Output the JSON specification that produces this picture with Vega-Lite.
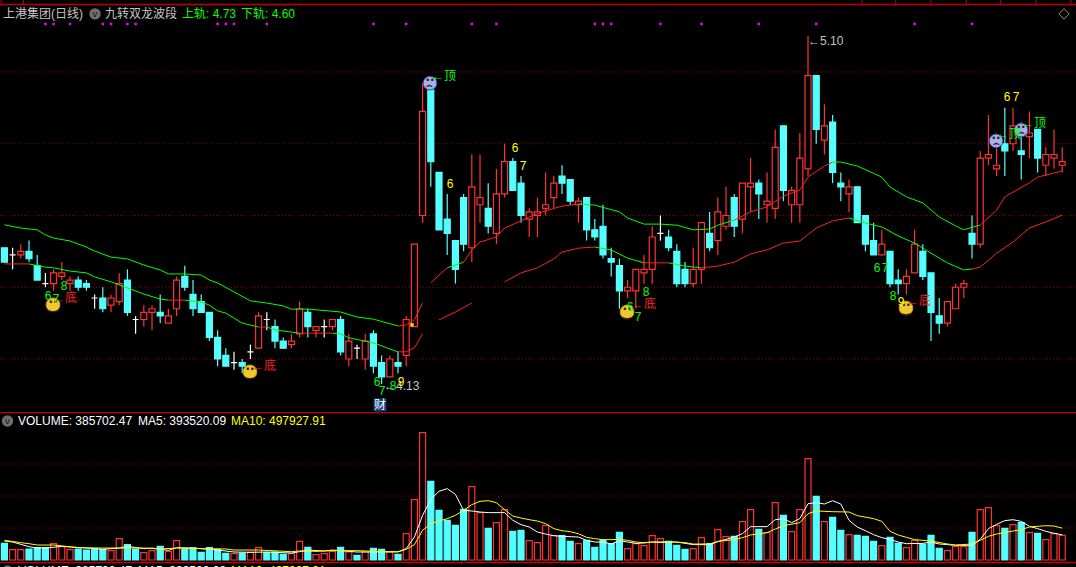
{
"$schema":"https://vega.github.io/schema/vega-lite/v6.json",
"background":"#000000","padding":0,"spacing":0,
"config":{"view":{"stroke":null},"concat":{"spacing":0}},
"datasets":{
"candles":[
{"k":0,"o":4.51,"c":4.47,"h":4.51,"l":4.47,"v":260000,"d":"down","vd":"down"},
{"k":1,"o":4.49,"c":4.49,"h":4.51,"l":4.45,"v":161000,"d":"flat","vd":"up"},
{"k":2,"o":4.49,"c":4.50,"h":4.52,"l":4.48,"v":161000,"d":"up","vd":"up"},
{"k":3,"o":4.50,"c":4.48,"h":4.53,"l":4.47,"v":172000,"d":"down","vd":"down"},
{"k":4,"o":4.46,"c":4.42,"h":4.49,"l":4.42,"v":193000,"d":"down","vd":"down"},
{"k":5,"o":4.41,"c":4.41,"h":4.44,"l":4.40,"v":193000,"d":"flat","vd":"down"},
{"k":6,"o":4.41,"c":4.44,"h":4.45,"l":4.39,"v":255000,"d":"up","vd":"up"},
{"k":7,"o":4.43,"c":4.44,"h":4.47,"l":4.42,"v":208000,"d":"up","vd":"up"},
{"k":8,"o":4.41,"c":4.42,"h":4.43,"l":4.39,"v":161000,"d":"up","vd":"up"},
{"k":9,"o":4.42,"c":4.40,"h":4.43,"l":4.39,"v":172000,"d":"down","vd":"down"},
{"k":10,"o":4.41,"c":4.40,"h":4.42,"l":4.39,"v":156000,"d":"down","vd":"down"},
{"k":11,"o":4.37,"c":4.37,"h":4.38,"l":4.34,"v":177000,"d":"flat","vd":"down"},
{"k":12,"o":4.37,"c":4.34,"h":4.40,"l":4.33,"v":167000,"d":"down","vd":"down"},
{"k":13,"o":4.35,"c":4.37,"h":4.38,"l":4.33,"v":146000,"d":"up","vd":"up"},
{"k":14,"o":4.36,"c":4.41,"h":4.44,"l":4.35,"v":333000,"d":"up","vd":"up"},
{"k":15,"o":4.42,"c":4.33,"h":4.45,"l":4.32,"v":240000,"d":"down","vd":"down"},
{"k":16,"o":4.31,"c":4.31,"h":4.32,"l":4.27,"v":167000,"d":"flat","vd":"down"},
{"k":17,"o":4.31,"c":4.33,"h":4.35,"l":4.29,"v":115000,"d":"up","vd":"up"},
{"k":18,"o":4.33,"c":4.34,"h":4.35,"l":4.28,"v":146000,"d":"up","vd":"up"},
{"k":19,"o":4.33,"c":4.32,"h":4.38,"l":4.30,"v":214000,"d":"down","vd":"down"},
{"k":20,"o":4.30,"c":4.32,"h":4.34,"l":4.30,"v":135000,"d":"up","vd":"up"},
{"k":21,"o":4.34,"c":4.42,"h":4.43,"l":4.32,"v":302000,"d":"up","vd":"up"},
{"k":22,"o":4.43,"c":4.40,"h":4.46,"l":4.39,"v":172000,"d":"down","vd":"down"},
{"k":23,"o":4.38,"c":4.34,"h":4.42,"l":4.32,"v":188000,"d":"down","vd":"down"},
{"k":24,"o":4.36,"c":4.33,"h":4.38,"l":4.33,"v":120000,"d":"down","vd":"down"},
{"k":25,"o":4.33,"c":4.26,"h":4.33,"l":4.25,"v":193000,"d":"down","vd":"down"},
{"k":26,"o":4.26,"c":4.20,"h":4.28,"l":4.18,"v":167000,"d":"down","vd":"down"},
{"k":27,"o":4.21,"c":4.18,"h":4.23,"l":4.18,"v":104000,"d":"down","vd":"down"},
{"k":28,"o":4.19,"c":4.19,"h":4.22,"l":4.17,"v":99000,"d":"flat","vd":"up"},
{"k":29,"o":4.19,"c":4.18,"h":4.20,"l":4.16,"v":109000,"d":"down","vd":"down"},
{"k":30,"o":4.22,"c":4.22,"h":4.24,"l":4.20,"v":120000,"d":"flat","vd":"up"},
{"k":31,"o":4.23,"c":4.32,"h":4.33,"l":4.23,"v":193000,"d":"up","vd":"up"},
{"k":32,"o":4.31,"c":4.31,"h":4.33,"l":4.28,"v":115000,"d":"flat","vd":"down"},
{"k":33,"o":4.29,"c":4.25,"h":4.31,"l":4.23,"v":125000,"d":"down","vd":"down"},
{"k":34,"o":4.25,"c":4.23,"h":4.26,"l":4.23,"v":88000,"d":"down","vd":"down"},
{"k":35,"o":4.24,"c":4.25,"h":4.27,"l":4.23,"v":99000,"d":"up","vd":"up"},
{"k":36,"o":4.27,"c":4.34,"h":4.36,"l":4.26,"v":292000,"d":"up","vd":"up"},
{"k":37,"o":4.33,"c":4.29,"h":4.34,"l":4.26,"v":198000,"d":"down","vd":"down"},
{"k":38,"o":4.28,"c":4.29,"h":4.29,"l":4.26,"v":83000,"d":"up","vd":"up"},
{"k":39,"o":4.29,"c":4.29,"h":4.31,"l":4.26,"v":99000,"d":"flat","vd":"up"},
{"k":40,"o":4.29,"c":4.31,"h":4.31,"l":4.28,"v":135000,"d":"up","vd":"up"},
{"k":41,"o":4.31,"c":4.22,"h":4.32,"l":4.21,"v":198000,"d":"down","vd":"down"},
{"k":42,"o":4.20,"c":4.25,"h":4.27,"l":4.18,"v":125000,"d":"up","vd":"up"},
{"k":43,"o":4.23,"c":4.23,"h":4.24,"l":4.20,"v":73000,"d":"flat","vd":"down"},
{"k":44,"o":4.20,"c":4.25,"h":4.27,"l":4.17,"v":125000,"d":"up","vd":"up"},
{"k":45,"o":4.27,"c":4.18,"h":4.28,"l":4.16,"v":182000,"d":"down","vd":"down"},
{"k":46,"o":4.19,"c":4.15,"h":4.21,"l":4.13,"v":167000,"d":"down","vd":"down"},
{"k":47,"o":4.15,"c":4.20,"h":4.21,"l":4.15,"v":125000,"d":"up","vd":"up"},
{"k":48,"o":4.19,"c":4.18,"h":4.22,"l":4.16,"v":89000,"d":"down","vd":"down"},
{"k":49,"o":4.21,"c":4.31,"h":4.32,"l":4.18,"v":411000,"d":"up","vd":"up"},
{"k":50,"o":4.29,"c":4.52,"h":4.52,"l":4.29,"v":943000,"d":"up","vd":"up"},
{"k":51,"o":4.60,"c":4.89,"h":4.97,"l":4.58,"v":1989000,"d":"up","vd":"up"},
{"k":52,"o":4.95,"c":4.75,"h":4.95,"l":4.68,"v":1229000,"d":"down","vd":"down"},
{"k":53,"o":4.72,"c":4.56,"h":4.72,"l":4.56,"v":776000,"d":"down","vd":"down"},
{"k":54,"o":4.59,"c":4.55,"h":4.66,"l":4.49,"v":620000,"d":"down","vd":"down"},
{"k":55,"o":4.53,"c":4.45,"h":4.53,"l":4.41,"v":542000,"d":"down","vd":"down"},
{"k":56,"o":4.65,"c":4.52,"h":4.66,"l":4.50,"v":792000,"d":"down","vd":"down"},
{"k":57,"o":4.51,"c":4.68,"h":4.77,"l":4.47,"v":1146000,"d":"up","vd":"up"},
{"k":58,"o":4.63,"c":4.65,"h":4.77,"l":4.58,"v":740000,"d":"up","vd":"up"},
{"k":59,"o":4.62,"c":4.57,"h":4.69,"l":4.55,"v":495000,"d":"down","vd":"down"},
{"k":60,"o":4.55,"c":4.66,"h":4.73,"l":4.52,"v":583000,"d":"up","vd":"up"},
{"k":61,"o":4.66,"c":4.75,"h":4.80,"l":4.65,"v":786000,"d":"up","vd":"up"},
{"k":62,"o":4.75,"c":4.67,"h":4.76,"l":4.67,"v":448000,"d":"down","vd":"down"},
{"k":63,"o":4.69,"c":4.60,"h":4.71,"l":4.58,"v":464000,"d":"down","vd":"down"},
{"k":64,"o":4.59,"c":4.61,"h":4.62,"l":4.54,"v":302000,"d":"up","vd":"up"},
{"k":65,"o":4.60,"c":4.61,"h":4.65,"l":4.54,"v":271000,"d":"up","vd":"up"},
{"k":66,"o":4.62,"c":4.63,"h":4.72,"l":4.60,"v":542000,"d":"up","vd":"up"},
{"k":67,"o":4.65,"c":4.69,"h":4.71,"l":4.62,"v":380000,"d":"up","vd":"up"},
{"k":68,"o":4.71,"c":4.69,"h":4.74,"l":4.66,"v":380000,"d":"down","vd":"down"},
{"k":69,"o":4.70,"c":4.64,"h":4.70,"l":4.63,"v":292000,"d":"down","vd":"down"},
{"k":70,"o":4.63,"c":4.64,"h":4.65,"l":4.58,"v":255000,"d":"up","vd":"up"},
{"k":71,"o":4.65,"c":4.56,"h":4.65,"l":4.53,"v":307000,"d":"down","vd":"down"},
{"k":72,"o":4.56,"c":4.54,"h":4.59,"l":4.53,"v":198000,"d":"down","vd":"down"},
{"k":73,"o":4.57,"c":4.49,"h":4.63,"l":4.48,"v":307000,"d":"down","vd":"down"},
{"k":74,"o":4.48,"c":4.47,"h":4.51,"l":4.43,"v":255000,"d":"down","vd":"down"},
{"k":75,"o":4.46,"c":4.39,"h":4.48,"l":4.34,"v":432000,"d":"down","vd":"down"},
{"k":76,"o":4.39,"c":4.40,"h":4.42,"l":4.37,"v":177000,"d":"up","vd":"up"},
{"k":77,"o":4.39,"c":4.45,"h":4.45,"l":4.34,"v":255000,"d":"up","vd":"up"},
{"k":78,"o":4.44,"c":4.45,"h":4.49,"l":4.41,"v":224000,"d":"up","vd":"up"},
{"k":79,"o":4.45,"c":4.54,"h":4.57,"l":4.41,"v":380000,"d":"up","vd":"up"},
{"k":80,"o":4.55,"c":4.55,"h":4.60,"l":4.53,"v":333000,"d":"flat","vd":"up"},
{"k":81,"o":4.54,"c":4.51,"h":4.56,"l":4.50,"v":292000,"d":"down","vd":"down"},
{"k":82,"o":4.50,"c":4.41,"h":4.52,"l":4.40,"v":229000,"d":"down","vd":"down"},
{"k":83,"o":4.45,"c":4.41,"h":4.47,"l":4.40,"v":167000,"d":"down","vd":"down"},
{"k":84,"o":4.41,"c":4.45,"h":4.51,"l":4.40,"v":177000,"d":"up","vd":"up"},
{"k":85,"o":4.45,"c":4.58,"h":4.58,"l":4.41,"v":349000,"d":"up","vd":"up"},
{"k":86,"o":4.55,"c":4.51,"h":4.61,"l":4.50,"v":255000,"d":"down","vd":"down"},
{"k":87,"o":4.53,"c":4.61,"h":4.65,"l":4.49,"v":474000,"d":"up","vd":"up"},
{"k":88,"o":4.57,"c":4.60,"h":4.68,"l":4.56,"v":365000,"d":"up","vd":"up"},
{"k":89,"o":4.65,"c":4.57,"h":4.66,"l":4.54,"v":370000,"d":"down","vd":"down"},
{"k":90,"o":4.59,"c":4.69,"h":4.69,"l":4.55,"v":599000,"d":"up","vd":"up"},
{"k":91,"o":4.68,"c":4.69,"h":4.76,"l":4.61,"v":786000,"d":"up","vd":"up"},
{"k":92,"o":4.69,"c":4.66,"h":4.70,"l":4.59,"v":479000,"d":"down","vd":"down"},
{"k":93,"o":4.63,"c":4.64,"h":4.72,"l":4.58,"v":427000,"d":"up","vd":"up"},
{"k":94,"o":4.62,"c":4.79,"h":4.84,"l":4.59,"v":896000,"d":"up","vd":"up"},
{"k":95,"o":4.85,"c":4.67,"h":4.85,"l":4.64,"v":698000,"d":"down","vd":"down"},
{"k":96,"o":4.63,"c":4.67,"h":4.68,"l":4.58,"v":443000,"d":"up","vd":"up"},
{"k":97,"o":4.63,"c":4.76,"h":4.83,"l":4.58,"v":786000,"d":"up","vd":"up"},
{"k":98,"o":4.73,"c":4.99,"h":5.10,"l":4.71,"v":1583000,"d":"up","vd":"up"},
{"k":99,"o":4.99,"c":4.84,"h":4.99,"l":4.80,"v":995000,"d":"down","vd":"down"},
{"k":100,"o":4.81,"c":4.85,"h":4.91,"l":4.77,"v":599000,"d":"up","vd":"up"},
{"k":101,"o":4.86,"c":4.72,"h":4.88,"l":4.69,"v":667000,"d":"down","vd":"down"},
{"k":102,"o":4.69,"c":4.68,"h":4.72,"l":4.64,"v":464000,"d":"down","vd":"down"},
{"k":103,"o":4.66,"c":4.68,"h":4.70,"l":4.61,"v":396000,"d":"up","vd":"up"},
{"k":104,"o":4.68,"c":4.58,"h":4.68,"l":4.58,"v":385000,"d":"down","vd":"down"},
{"k":105,"o":4.60,"c":4.52,"h":4.60,"l":4.50,"v":370000,"d":"down","vd":"down"},
{"k":106,"o":4.53,"c":4.49,"h":4.58,"l":4.49,"v":292000,"d":"down","vd":"down"},
{"k":107,"o":4.49,"c":4.52,"h":4.56,"l":4.49,"v":224000,"d":"up","vd":"up"},
{"k":108,"o":4.50,"c":4.41,"h":4.50,"l":4.40,"v":354000,"d":"down","vd":"down"},
{"k":109,"o":4.42,"c":4.41,"h":4.45,"l":4.38,"v":260000,"d":"down","vd":"down"},
{"k":110,"o":4.41,"c":4.43,"h":4.45,"l":4.38,"v":193000,"d":"up","vd":"up"},
{"k":111,"o":4.44,"c":4.52,"h":4.56,"l":4.44,"v":307000,"d":"up","vd":"up"},
{"k":112,"o":4.50,"c":4.43,"h":4.52,"l":4.42,"v":245000,"d":"down","vd":"down"},
{"k":113,"o":4.44,"c":4.33,"h":4.44,"l":4.25,"v":385000,"d":"down","vd":"down"},
{"k":114,"o":4.32,"c":4.30,"h":4.37,"l":4.27,"v":182000,"d":"down","vd":"down"},
{"k":115,"o":4.30,"c":4.36,"h":4.36,"l":4.29,"v":146000,"d":"up","vd":"up"},
{"k":116,"o":4.34,"c":4.40,"h":4.41,"l":4.34,"v":208000,"d":"up","vd":"up"},
{"k":117,"o":4.40,"c":4.41,"h":4.42,"l":4.37,"v":208000,"d":"up","vd":"up"},
{"k":118,"o":4.55,"c":4.52,"h":4.60,"l":4.48,"v":432000,"d":"down","vd":"down"},
{"k":119,"o":4.52,"c":4.76,"h":4.78,"l":4.51,"v":786000,"d":"up","vd":"up"},
{"k":120,"o":4.76,"c":4.77,"h":4.88,"l":4.74,"v":818000,"d":"up","vd":"up"},
{"k":121,"o":4.73,"c":4.74,"h":4.80,"l":4.71,"v":536000,"d":"up","vd":"up"},
{"k":122,"o":4.80,"c":4.78,"h":4.90,"l":4.71,"v":495000,"d":"down","vd":"down"},
{"k":123,"o":4.80,"c":4.85,"h":4.90,"l":4.78,"v":552000,"d":"up","vd":"up"},
{"k":124,"o":4.78,"c":4.77,"h":4.86,"l":4.70,"v":583000,"d":"down","vd":"down"},
{"k":125,"o":4.82,"c":4.83,"h":4.89,"l":4.76,"v":427000,"d":"up","vd":"up"},
{"k":126,"o":4.84,"c":4.76,"h":4.84,"l":4.72,"v":417000,"d":"down","vd":"down"},
{"k":127,"o":4.74,"c":4.77,"h":4.79,"l":4.71,"v":318000,"d":"up","vd":"up"},
{"k":128,"o":4.76,"c":4.77,"h":4.84,"l":4.73,"v":411000,"d":"up","vd":"up"},
{"k":129,"o":4.74,"c":4.75,"h":4.79,"l":4.72,"v":385702,"d":"up","vd":"up"}
],
"rails":[
{"k":0,"p":4.574,"seg":"U1","dir":"down"},{"k":2,"p":4.565,"seg":"U1","dir":"down"},{"k":4,"p":4.560,"seg":"U1","dir":"down"},{"k":5,"p":4.546,"seg":"U1","dir":"down"},{"k":6,"p":4.537,"seg":"U1","dir":"down"},{"k":8,"p":4.529,"seg":"U1","dir":"down"},{"k":10,"p":4.512,"seg":"U1","dir":"down"},{"k":11,"p":4.501,"seg":"U1","dir":"down"},{"k":13,"p":4.484,"seg":"U1","dir":"down"},{"k":15,"p":4.479,"seg":"U1","dir":"down"},{"k":17,"p":4.462,"seg":"U1","dir":"down"},{"k":19,"p":4.448,"seg":"U1","dir":"down"},{"k":20,"p":4.437,"seg":"U1","dir":"down"},{"k":22,"p":4.437,"seg":"U1","dir":"down"},{"k":24,"p":4.434,"seg":"U1","dir":"down"},{"k":25,"p":4.420,"seg":"U1","dir":"down"},{"k":26,"p":4.412,"seg":"U1","dir":"down"},{"k":28,"p":4.387,"seg":"U1","dir":"down"},{"k":30,"p":4.362,"seg":"U1","dir":"down"},{"k":32,"p":4.356,"seg":"U1","dir":"down"},{"k":34,"p":4.348,"seg":"U1","dir":"down"},{"k":35,"p":4.339,"seg":"U1","dir":"down"},{"k":37,"p":4.339,"seg":"U1","dir":"down"},{"k":41,"p":4.331,"seg":"U1","dir":"down"},{"k":43,"p":4.317,"seg":"U1","dir":"down"},{"k":45,"p":4.311,"seg":"U1","dir":"down"},{"k":48,"p":4.292,"seg":"U1","dir":"down"},
{"k":48,"p":4.292,"seg":"U2","dir":"up"},{"k":49,"p":4.295,"seg":"U2","dir":"up"},{"k":50,"p":4.309,"seg":"U2","dir":"up"},{"k":51,"p":4.356,"seg":"U2","dir":"up"},
{"k":52,"p":4.412,"seg":"U3","dir":"up"},{"k":53,"p":4.434,"seg":"U3","dir":"up"},{"k":54,"p":4.454,"seg":"U3","dir":"up"},
{"k":54,"p":4.454,"seg":"U4","dir":"down"},{"k":56,"p":4.470,"seg":"U4","dir":"down"},
{"k":56,"p":4.470,"seg":"U5","dir":"up"},{"k":57,"p":4.504,"seg":"U5","dir":"up"},{"k":58,"p":4.526,"seg":"U5","dir":"up"},{"k":60,"p":4.540,"seg":"U5","dir":"up"},{"k":61,"p":4.565,"seg":"U5","dir":"up"},{"k":63,"p":4.585,"seg":"U5","dir":"up"},{"k":64,"p":4.596,"seg":"U5","dir":"up"},{"k":66,"p":4.613,"seg":"U5","dir":"up"},{"k":68,"p":4.626,"seg":"U5","dir":"up"},{"k":70,"p":4.632,"seg":"U5","dir":"up"},
{"k":70,"p":4.632,"seg":"U6","dir":"down"},{"k":72,"p":4.629,"seg":"U6","dir":"down"},{"k":75,"p":4.610,"seg":"U6","dir":"down"},{"k":76,"p":4.593,"seg":"U6","dir":"down"},{"k":78,"p":4.576,"seg":"U6","dir":"down"},{"k":80,"p":4.576,"seg":"U6","dir":"down"},{"k":82,"p":4.573,"seg":"U6","dir":"down"},{"k":84,"p":4.560,"seg":"U6","dir":"down"},{"k":86,"p":4.562,"seg":"U6","dir":"down"},{"k":87,"p":4.573,"seg":"U6","dir":"down"},{"k":89,"p":4.587,"seg":"U6","dir":"down"},
{"k":89,"p":4.587,"seg":"U7","dir":"up"},{"k":91,"p":4.610,"seg":"U7","dir":"up"},{"k":93,"p":4.624,"seg":"U7","dir":"up"},{"k":95,"p":4.654,"seg":"U7","dir":"up"},{"k":97,"p":4.671,"seg":"U7","dir":"up"},{"k":98,"p":4.707,"seg":"U7","dir":"up"},{"k":100,"p":4.738,"seg":"U7","dir":"up"},{"k":101,"p":4.749,"seg":"U7","dir":"up"},
{"k":101,"p":4.749,"seg":"U8","dir":"down"},{"k":102,"p":4.749,"seg":"U8","dir":"down"},{"k":104,"p":4.738,"seg":"U8","dir":"down"},{"k":107,"p":4.707,"seg":"U8","dir":"down"},{"k":108,"p":4.679,"seg":"U8","dir":"down"},{"k":110,"p":4.652,"seg":"U8","dir":"down"},{"k":112,"p":4.635,"seg":"U8","dir":"down"},{"k":114,"p":4.596,"seg":"U8","dir":"down"},{"k":116,"p":4.571,"seg":"U8","dir":"down"},{"k":117,"p":4.560,"seg":"U8","dir":"down"},{"k":118,"p":4.567,"seg":"U8","dir":"down"},{"k":119,"p":4.573,"seg":"U8","dir":"down"},
{"k":119,"p":4.573,"seg":"U9","dir":"up"},{"k":121,"p":4.615,"seg":"U9","dir":"up"},{"k":122,"p":4.652,"seg":"U9","dir":"up"},{"k":125,"p":4.691,"seg":"U9","dir":"up"},{"k":126,"p":4.707,"seg":"U9","dir":"up"},{"k":129,"p":4.724,"seg":"U9","dir":"up"},
{"k":0,"p":4.465,"seg":"L1","dir":"up"},{"k":3,"p":4.465,"seg":"L1","dir":"up"},
{"k":3,"p":4.465,"seg":"L2","dir":"down"},{"k":5,"p":4.456,"seg":"L2","dir":"down"},{"k":6,"p":4.454,"seg":"L2","dir":"down"},{"k":8,"p":4.445,"seg":"L2","dir":"down"},{"k":10,"p":4.440,"seg":"L2","dir":"down"},{"k":11,"p":4.429,"seg":"L2","dir":"down"},{"k":13,"p":4.415,"seg":"L2","dir":"down"},{"k":15,"p":4.398,"seg":"L2","dir":"down"},{"k":17,"p":4.381,"seg":"L2","dir":"down"},{"k":19,"p":4.367,"seg":"L2","dir":"down"},{"k":20,"p":4.364,"seg":"L2","dir":"down"},
{"k":20,"p":4.364,"seg":"L3","dir":"up"},{"k":22,"p":4.364,"seg":"L3","dir":"up"},
{"k":22,"p":4.364,"seg":"L4","dir":"down"},{"k":24,"p":4.359,"seg":"L4","dir":"down"},{"k":25,"p":4.350,"seg":"L4","dir":"down"},{"k":26,"p":4.334,"seg":"L4","dir":"down"},{"k":27,"p":4.328,"seg":"L4","dir":"down"},{"k":29,"p":4.300,"seg":"L4","dir":"down"},{"k":31,"p":4.289,"seg":"L4","dir":"down"},
{"k":31,"p":4.289,"seg":"L5","dir":"up"},{"k":32,"p":4.289,"seg":"L5","dir":"up"},
{"k":32,"p":4.289,"seg":"L6","dir":"down"},{"k":33,"p":4.281,"seg":"L6","dir":"down"},{"k":35,"p":4.275,"seg":"L6","dir":"down"},{"k":36,"p":4.272,"seg":"L6","dir":"down"},
{"k":36,"p":4.272,"seg":"L7","dir":"up"},{"k":40,"p":4.272,"seg":"L7","dir":"up"},
{"k":40,"p":4.272,"seg":"L8","dir":"down"},{"k":41,"p":4.270,"seg":"L8","dir":"down"},{"k":42,"p":4.259,"seg":"L8","dir":"down"},{"k":45,"p":4.245,"seg":"L8","dir":"down"},{"k":47,"p":4.228,"seg":"L8","dir":"down"},{"k":48,"p":4.220,"seg":"L8","dir":"down"},
{"k":48,"p":4.220,"seg":"L9","dir":"up"},{"k":49,"p":4.220,"seg":"L9","dir":"up"},{"k":50,"p":4.231,"seg":"L9","dir":"up"},{"k":51,"p":4.270,"seg":"L9","dir":"up"},
{"k":53,"p":4.309,"seg":"L10","dir":"up"},{"k":55,"p":4.331,"seg":"L10","dir":"up"},{"k":57,"p":4.356,"seg":"L10","dir":"up"},
{"k":61,"p":4.415,"seg":"L11","dir":"up"},{"k":63,"p":4.440,"seg":"L11","dir":"up"},{"k":65,"p":4.454,"seg":"L11","dir":"up"},{"k":67,"p":4.479,"seg":"L11","dir":"up"},{"k":68,"p":4.498,"seg":"L11","dir":"up"},{"k":70,"p":4.509,"seg":"L11","dir":"up"},{"k":72,"p":4.512,"seg":"L11","dir":"up"},
{"k":72,"p":4.512,"seg":"L12","dir":"down"},{"k":74,"p":4.504,"seg":"L12","dir":"down"},{"k":76,"p":4.481,"seg":"L12","dir":"down"},{"k":78,"p":4.468,"seg":"L12","dir":"down"},
{"k":78,"p":4.468,"seg":"L13","dir":"up"},{"k":81,"p":4.468,"seg":"L13","dir":"up"},
{"k":81,"p":4.468,"seg":"L14","dir":"down"},{"k":83,"p":4.459,"seg":"L14","dir":"down"},{"k":85,"p":4.454,"seg":"L14","dir":"down"},
{"k":85,"p":4.454,"seg":"L15","dir":"up"},{"k":87,"p":4.459,"seg":"L15","dir":"up"},{"k":89,"p":4.470,"seg":"L15","dir":"up"},{"k":91,"p":4.493,"seg":"L15","dir":"up"},{"k":93,"p":4.504,"seg":"L15","dir":"up"},{"k":95,"p":4.523,"seg":"L15","dir":"up"},{"k":97,"p":4.529,"seg":"L15","dir":"up"},{"k":99,"p":4.565,"seg":"L15","dir":"up"},{"k":101,"p":4.585,"seg":"L15","dir":"up"},{"k":103,"p":4.593,"seg":"L15","dir":"up"},
{"k":103,"p":4.593,"seg":"L16","dir":"down"},{"k":105,"p":4.579,"seg":"L16","dir":"down"},{"k":107,"p":4.568,"seg":"L16","dir":"down"},{"k":109,"p":4.543,"seg":"L16","dir":"down"},{"k":111,"p":4.523,"seg":"L16","dir":"down"},{"k":113,"p":4.495,"seg":"L16","dir":"down"},{"k":115,"p":4.468,"seg":"L16","dir":"down"},{"k":117,"p":4.448,"seg":"L16","dir":"down"},{"k":118,"p":4.451,"seg":"L16","dir":"down"},
{"k":118,"p":4.451,"seg":"L17","dir":"up"},{"k":119,"p":4.456,"seg":"L17","dir":"up"},{"k":121,"p":4.495,"seg":"L17","dir":"up"},{"k":123,"p":4.526,"seg":"L17","dir":"up"},{"k":125,"p":4.565,"seg":"L17","dir":"up"},{"k":127,"p":4.582,"seg":"L17","dir":"up"},{"k":129,"p":4.601,"seg":"L17","dir":"up"}
],
"ma":[
{"k":0,"v":297000,"s":"MA5"},{"k":1,"v":281000,"s":"MA5"},{"k":2,"v":245000,"s":"MA5"},{"k":3,"v":208000,"s":"MA5"},{"k":4,"v":187000,"s":"MA5"},{"k":5,"v":187000,"s":"MA5"},{"k":7,"v":213000,"s":"MA5"},{"k":8,"v":203000,"s":"MA5"},{"k":10,"v":187000,"s":"MA5"},{"k":12,"v":167000,"s":"MA5"},{"k":14,"v":187000,"s":"MA5"},{"k":15,"v":214000,"s":"MA5"},{"k":17,"v":177000,"s":"MA5"},{"k":18,"v":187000,"s":"MA5"},{"k":20,"v":151000,"s":"MA5"},{"k":21,"v":193000,"s":"MA5"},{"k":23,"v":187000,"s":"MA5"},{"k":24,"v":177000,"s":"MA5"},{"k":26,"v":156000,"s":"MA5"},{"k":28,"v":125000,"s":"MA5"},{"k":30,"v":120000,"s":"MA5"},{"k":32,"v":125000,"s":"MA5"},{"k":35,"v":109000,"s":"MA5"},{"k":36,"v":130000,"s":"MA5"},{"k":37,"v":156000,"s":"MA5"},{"k":39,"v":141000,"s":"MA5"},{"k":40,"v":156000,"s":"MA5"},{"k":43,"v":125000,"s":"MA5"},{"k":44,"v":125000,"s":"MA5"},{"k":46,"v":125000,"s":"MA5"},{"k":48,"v":130000,"s":"MA5"},{"k":49,"v":177000,"s":"MA5"},{"k":50,"v":359000,"s":"MA5"},{"k":51,"v":698000,"s":"MA5"},{"k":52,"v":948000,"s":"MA5"},{"k":53,"v":1073000,"s":"MA5"},{"k":54,"v":1115000,"s":"MA5"},{"k":55,"v":1026000,"s":"MA5"},{"k":56,"v":776000,"s":"MA5"},{"k":57,"v":766000,"s":"MA5"},{"k":58,"v":750000,"s":"MA5"},{"k":59,"v":740000,"s":"MA5"},{"k":61,"v":740000,"s":"MA5"},{"k":62,"v":620000,"s":"MA5"},{"k":63,"v":552000,"s":"MA5"},{"k":64,"v":516000,"s":"MA5"},{"k":65,"v":437000,"s":"MA5"},{"k":66,"v":406000,"s":"MA5"},{"k":67,"v":380000,"s":"MA5"},{"k":68,"v":370000,"s":"MA5"},{"k":70,"v":359000,"s":"MA5"},{"k":71,"v":307000,"s":"MA5"},{"k":72,"v":281000,"s":"MA5"},{"k":73,"v":281000,"s":"MA5"},{"k":74,"v":250000,"s":"MA5"},{"k":75,"v":302000,"s":"MA5"},{"k":76,"v":281000,"s":"MA5"},{"k":77,"v":260000,"s":"MA5"},{"k":78,"v":266000,"s":"MA5"},{"k":79,"v":281000,"s":"MA5"},{"k":80,"v":271000,"s":"MA5"},{"k":81,"v":281000,"s":"MA5"},{"k":82,"v":281000,"s":"MA5"},{"k":84,"v":240000,"s":"MA5"},{"k":86,"v":240000,"s":"MA5"},{"k":87,"v":286000,"s":"MA5"},{"k":88,"v":323000,"s":"MA5"},{"k":89,"v":359000,"s":"MA5"},{"k":90,"v":411000,"s":"MA5"},{"k":91,"v":521000,"s":"MA5"},{"k":93,"v":521000,"s":"MA5"},{"k":94,"v":630000,"s":"MA5"},{"k":95,"v":646000,"s":"MA5"},{"k":96,"v":583000,"s":"MA5"},{"k":97,"v":646000,"s":"MA5"},{"k":98,"v":880000,"s":"MA5"},{"k":99,"v":896000,"s":"MA5"},{"k":100,"v":875000,"s":"MA5"},{"k":101,"v":927000,"s":"MA5"},{"k":102,"v":875000,"s":"MA5"},{"k":103,"v":620000,"s":"MA5"},{"k":104,"v":516000,"s":"MA5"},{"k":105,"v":458000,"s":"MA5"},{"k":106,"v":396000,"s":"MA5"},{"k":107,"v":349000,"s":"MA5"},{"k":108,"v":318000,"s":"MA5"},{"k":109,"v":281000,"s":"MA5"},{"k":110,"v":255000,"s":"MA5"},{"k":112,"v":260000,"s":"MA5"},{"k":113,"v":281000,"s":"MA5"},{"k":114,"v":250000,"s":"MA5"},{"k":115,"v":240000,"s":"MA5"},{"k":116,"v":229000,"s":"MA5"},{"k":118,"v":229000,"s":"MA5"},{"k":119,"v":323000,"s":"MA5"},{"k":120,"v":490000,"s":"MA5"},{"k":121,"v":557000,"s":"MA5"},{"k":122,"v":615000,"s":"MA5"},{"k":123,"v":630000,"s":"MA5"},{"k":124,"v":604000,"s":"MA5"},{"k":125,"v":526000,"s":"MA5"},{"k":126,"v":490000,"s":"MA5"},{"k":127,"v":448000,"s":"MA5"},{"k":128,"v":417000,"s":"MA5"},{"k":129,"v":393520,"s":"MA5"},
{"k":0,"v":307000,"s":"MA10"},{"k":2,"v":271000,"s":"MA10"},{"k":3,"v":255000,"s":"MA10"},{"k":4,"v":234000,"s":"MA10"},{"k":6,"v":234000,"s":"MA10"},{"k":9,"v":193000,"s":"MA10"},{"k":12,"v":187000,"s":"MA10"},{"k":14,"v":187000,"s":"MA10"},{"k":17,"v":187000,"s":"MA10"},{"k":19,"v":172000,"s":"MA10"},{"k":21,"v":187000,"s":"MA10"},{"k":24,"v":177000,"s":"MA10"},{"k":27,"v":172000,"s":"MA10"},{"k":28,"v":156000,"s":"MA10"},{"k":31,"v":156000,"s":"MA10"},{"k":35,"v":130000,"s":"MA10"},{"k":36,"v":141000,"s":"MA10"},{"k":38,"v":135000,"s":"MA10"},{"k":40,"v":146000,"s":"MA10"},{"k":43,"v":146000,"s":"MA10"},{"k":44,"v":141000,"s":"MA10"},{"k":48,"v":125000,"s":"MA10"},{"k":49,"v":167000,"s":"MA10"},{"k":50,"v":240000,"s":"MA10"},{"k":51,"v":464000,"s":"MA10"},{"k":52,"v":568000,"s":"MA10"},{"k":53,"v":609000,"s":"MA10"},{"k":54,"v":646000,"s":"MA10"},{"k":55,"v":698000,"s":"MA10"},{"k":56,"v":776000,"s":"MA10"},{"k":57,"v":865000,"s":"MA10"},{"k":58,"v":917000,"s":"MA10"},{"k":59,"v":927000,"s":"MA10"},{"k":60,"v":896000,"s":"MA10"},{"k":61,"v":786000,"s":"MA10"},{"k":62,"v":687000,"s":"MA10"},{"k":63,"v":656000,"s":"MA10"},{"k":64,"v":630000,"s":"MA10"},{"k":65,"v":609000,"s":"MA10"},{"k":66,"v":568000,"s":"MA10"},{"k":67,"v":490000,"s":"MA10"},{"k":68,"v":458000,"s":"MA10"},{"k":69,"v":443000,"s":"MA10"},{"k":70,"v":411000,"s":"MA10"},{"k":71,"v":354000,"s":"MA10"},{"k":72,"v":333000,"s":"MA10"},{"k":73,"v":318000,"s":"MA10"},{"k":74,"v":318000,"s":"MA10"},{"k":75,"v":323000,"s":"MA10"},{"k":76,"v":307000,"s":"MA10"},{"k":77,"v":281000,"s":"MA10"},{"k":78,"v":271000,"s":"MA10"},{"k":79,"v":281000,"s":"MA10"},{"k":81,"v":286000,"s":"MA10"},{"k":83,"v":271000,"s":"MA10"},{"k":84,"v":250000,"s":"MA10"},{"k":86,"v":250000,"s":"MA10"},{"k":87,"v":292000,"s":"MA10"},{"k":89,"v":318000,"s":"MA10"},{"k":90,"v":349000,"s":"MA10"},{"k":91,"v":391000,"s":"MA10"},{"k":93,"v":427000,"s":"MA10"},{"k":94,"v":484000,"s":"MA10"},{"k":95,"v":536000,"s":"MA10"},{"k":97,"v":583000,"s":"MA10"},{"k":98,"v":724000,"s":"MA10"},{"k":99,"v":766000,"s":"MA10"},{"k":101,"v":755000,"s":"MA10"},{"k":103,"v":750000,"s":"MA10"},{"k":104,"v":693000,"s":"MA10"},{"k":106,"v":646000,"s":"MA10"},{"k":107,"v":604000,"s":"MA10"},{"k":108,"v":448000,"s":"MA10"},{"k":109,"v":391000,"s":"MA10"},{"k":110,"v":354000,"s":"MA10"},{"k":111,"v":318000,"s":"MA10"},{"k":113,"v":297000,"s":"MA10"},{"k":115,"v":250000,"s":"MA10"},{"k":116,"v":234000,"s":"MA10"},{"k":118,"v":250000,"s":"MA10"},{"k":119,"v":307000,"s":"MA10"},{"k":120,"v":370000,"s":"MA10"},{"k":121,"v":406000,"s":"MA10"},{"k":123,"v":453000,"s":"MA10"},{"k":124,"v":474000,"s":"MA10"},{"k":125,"v":516000,"s":"MA10"},{"k":127,"v":536000,"s":"MA10"},{"k":128,"v":531000,"s":"MA10"},{"k":129,"v":497928,"s":"MA10"}
],
"priceGrid":[{"p":5.0,"a":-0.537,"b":130.68},{"p":4.8,"a":-0.537,"b":130.68},{"p":4.6,"a":-0.537,"b":130.68},{"p":4.4,"a":-0.537,"b":130.68},{"p":4.2,"a":-0.537,"b":130.68}],
"topBorder":[{"p":5.188,"a":-0.537,"b":130.68}],
"volGrid":[{"v":500000,"a":-0.537,"b":130.68},{"v":1000000,"a":-0.537,"b":130.68},{"v":1500000,"a":-0.537,"b":130.68}],
"volBorder":[{"v":2304687,"a":-0.537,"b":130.68},{"v":-39062,"a":-0.537,"b":130.68}],
"dots":[{"k":5,"p":5.134},{"k":6,"p":5.134},{"k":8,"p":5.134},{"k":12,"p":5.134},{"k":13,"p":5.134},{"k":15,"p":5.134},{"k":16,"p":5.134},{"k":26,"p":5.134},{"k":27,"p":5.134},{"k":28,"p":5.134},{"k":32,"p":5.134},{"k":45,"p":5.134},{"k":49,"p":5.134},{"k":57,"p":5.134},{"k":60,"p":5.134},{"k":72,"p":5.134},{"k":73,"p":5.134},{"k":74,"p":5.134},{"k":80,"p":5.134},{"k":85,"p":5.134},{"k":92,"p":5.134},{"k":99,"p":5.134},{"k":111,"p":5.134},{"k":118,"p":5.134}],
"ticks":[{"k":-0.41,"p":5.2007,"q":5.188},{"k":2.33,"p":5.2007,"q":5.188},{"k":104.6,"p":5.2007,"q":5.188},{"k":108.7,"p":5.2007,"q":5.188},{"k":113.0,"p":5.2007,"q":5.188},{"k":117.3,"p":5.2007,"q":5.188},{"k":121.5,"p":5.2007,"q":5.188},{"k":125.8,"p":5.2007,"q":5.188},{"k":130.07,"p":5.2007,"q":5.188}],
"faces":[
{"k":5.93,"p":4.351,"mood":"happy","mouth":"‿"},{"k":29.95,"p":4.164,"mood":"happy","mouth":"‿"},{"k":75.93,"p":4.331,"mood":"happy","mouth":"‿"},{"k":109.95,"p":4.342,"mood":"happy","mouth":"‿"},
{"k":51.9,"p":4.969,"mood":"sad","mouth":"⌢"},{"k":120.93,"p":4.808,"mood":"sad","mouth":"⌢"},{"k":123.98,"p":4.838,"mood":"sad","mouth":"⌢"}],
"topLabels":[
{"k":-0.17,"p":5.162,"t":"上港集团(日线)","c":"gray"},
{"k":12.27,"p":5.162,"t":"九转双龙波段","c":"gray"},
{"k":21.66,"p":5.162,"t":"上轨: 4.73","c":"green"},
{"k":28.85,"p":5.162,"t":"下轨: 4.60","c":"green"},
{"k":5.93,"p":4.370,"t":"←底","c":"red"},
{"k":30.2,"p":4.180,"t":"←底","c":"red"},
{"k":76.53,"p":4.353,"t":"←底","c":"red"},
{"k":110.07,"p":4.362,"t":"←底","c":"red"},
{"k":52.15,"p":4.989,"t":"←顶","c":"green"},
{"k":121.05,"p":4.827,"t":"←顶","c":"green"},
{"k":124.1,"p":4.858,"t":"←顶","c":"green"},
{"k":98.0,"p":5.086,"t":"←5.10","c":"gray"},
{"k":46.3,"p":4.125,"t":"←4.13","c":"gray"}],
"digits":[
{"k":5.32,"p":4.376,"t":"6","c":"green"},{"k":7.27,"p":4.403,"t":"8","c":"green"},{"k":6.3,"p":4.367,"t":"7","c":"green"},
{"k":54.34,"p":4.688,"t":"6","c":"yellow"},{"k":62.27,"p":4.788,"t":"6","c":"yellow"},{"k":63.24,"p":4.738,"t":"7","c":"yellow"},
{"k":78.24,"p":4.387,"t":"8","c":"green"},{"k":76.29,"p":4.345,"t":"6","c":"green"},{"k":77.27,"p":4.317,"t":"7","c":"green"},
{"k":122.27,"p":4.930,"t":"6","c":"yellow"},{"k":123.37,"p":4.930,"t":"7","c":"yellow"},
{"k":106.41,"p":4.454,"t":"6","c":"green"},{"k":107.39,"p":4.454,"t":"7","c":"green"},{"k":108.37,"p":4.376,"t":"8","c":"green"},{"k":109.34,"p":4.359,"t":"9","c":"yellow"},
{"k":45.44,"p":4.136,"t":"6","c":"green"},{"k":47.39,"p":4.125,"t":"8","c":"green"},{"k":48.37,"p":4.136,"t":"9","c":"yellow"},{"k":46.05,"p":4.111,"t":"7","c":"green"},
{"k":45.8,"p":4.072,"t":"财","c":"white"}],
"volLabels":[
{"k":1.66,"v":2171875,"t":"VOLUME: 385702.47","c":"white"},{"k":16.29,"v":2171875,"t":"MA5: 393520.09","c":"white"},{"k":27.63,"v":2171875,"t":"MA10: 497927.91","c":"yellow"},
{"k":1.66,"v":-171875,"t":"VOLUME: 385702.47","c":"white"},{"k":16.29,"v":-171875,"t":"MA5: 393520.09","c":"white"},{"k":27.63,"v":-171875,"t":"MA10: 497927.91","c":"yellow"}],
"icons":[{"k":11.05,"p":5.162}],
"volIcons":[{"k":0.38,"v":2171875},{"k":0.38,"v":-171875}]
},
"vconcat":[
{"width":1076,"height":412,
"encoding":{
"x":{"field":"k","type":"quantitative","axis":null,"scale":{"domain":[-0.537,130.68],"nice":false,"zero":false,"padding":0}},
"y":{"field":"p","type":"quantitative","axis":null,"scale":{"domain":[4.0522,5.2007],"nice":false,"zero":false}}
},
"layer":[
{"data":{"name":"priceGrid"},"mark":{"type":"rule","stroke":"#8C0000","strokeWidth":1,"strokeDash":[1,2],"clip":true},
 "encoding":{"x":{"field":"a","type":"quantitative"},"x2":{"field":"b"}}},
{"data":{"name":"candles"},"mark":{"type":"rule","strokeWidth":1.2},
 "encoding":{"y":{"field":"h","type":"quantitative","axis":null,"scale":{"domain":[4.0522,5.2007],"nice":false,"zero":false}},"y2":{"field":"l"},
 "color":{"field":"d","type":"nominal","legend":null,"scale":{"domain":["up","down","flat"],"range":["#FF3232","#54FFFF","#FFFFFF"]}}}},
{"data":{"name":"candles"},"mark":{"type":"bar","size":6,"strokeWidth":1.2,"orient":"vertical"},
 "encoding":{"y":{"field":"o","type":"quantitative","axis":null,"scale":{"domain":[4.0522,5.2007],"nice":false,"zero":false}},"y2":{"field":"c"},
 "fill":{"field":"d","type":"nominal","legend":null,"scale":{"domain":["up","down","flat"],"range":["#000000","#54FFFF","#FFFFFF"]}},
 "stroke":{"field":"d","type":"nominal","legend":null,"scale":{"domain":["up","down","flat"],"range":["#FF3232","#54FFFF","#FFFFFF"]}}}},
{"data":{"name":"rails"},"mark":{"type":"line","strokeWidth":1},
 "encoding":{"detail":{"field":"seg","type":"nominal"},
 "color":{"field":"dir","type":"nominal","legend":null,"scale":{"domain":["up","down"],"range":["#FF2020","#00FF00"]}}}},
{"data":{"name":"dots"},"mark":{"type":"point","shape":"square","filled":true,"size":6,"color":"#FF00FF","opacity":1},"encoding":{}},
{"data":{"name":"ticks"},"mark":{"type":"rule","stroke":"#C00000","strokeWidth":1,"clip":true},
 "encoding":{"y2":{"field":"q"}}},
{"data":{"name":"topBorder"},"mark":{"type":"rule","stroke":"#C00000","strokeWidth":1.5,"clip":true},
 "encoding":{"x":{"field":"a","type":"quantitative"},"x2":{"field":"b"}}},
{"data":{"name":"faces"},"mark":{"type":"point","shape":"circle","filled":true,"size":190,"opacity":1,"strokeWidth":1},
 "encoding":{"fill":{"field":"mood","type":"nominal","legend":null,"scale":{"domain":["happy","sad"],"range":["#F0C830","#A8B0EC"]}},
 "stroke":{"field":"mood","type":"nominal","legend":null,"scale":{"domain":["happy","sad"],"range":["#C89818","#3040A8"]}}}},
{"data":{"name":"faces"},"mark":{"type":"text","text":"··","font":"DejaVu Sans","fontSize":12,"fontWeight":"bold","color":"#302000","dy":-3,"baseline":"middle"},"encoding":{}},
{"data":{"name":"faces"},"mark":{"type":"text","font":"DejaVu Sans","fontSize":10,"fontWeight":"bold","color":"#302000","dy":2,"baseline":"middle"},"encoding":{"text":{"field":"mouth","type":"nominal"}}},
{"data":{"name":"icons"},"mark":{"type":"point","shape":"circle","filled":true,"size":130,"color":"#6E6E6E","opacity":1},"encoding":{}},
{"data":{"name":"icons"},"mark":{"type":"text","text":"v","font":"DejaVu Sans","fontSize":9,"color":"#1A1A1A","baseline":"middle"},"encoding":{}},
{"data":{"values":[{"k":129.22,"p":5.162}]},"mark":{"type":"point","shape":"diamond","filled":false,"size":110,"color":"#909090","strokeWidth":1,"opacity":1},"encoding":{}},
{"data":{"values":[{"k":45.8,"p":4.072}]},"mark":{"type":"point","shape":"square","filled":true,"size":170,"color":"#123E7C","opacity":1},"encoding":{}},
{"data":{"values":[{"k":49.71,"p":4.295}]},"mark":{"type":"point","shape":"square","filled":true,"size":12,"color":"#FFD000","opacity":1},"encoding":{}},
{"data":{"name":"topLabels"},"mark":{"type":"text","align":"left","baseline":"middle","font":"Liberation Sans, Noto Sans CJK SC","fontSize":12},
 "encoding":{"text":{"field":"t","type":"nominal"},"color":{"field":"c","type":"nominal","legend":null,"scale":{"domain":["gray","green","red","yellow","white"],"range":["#C4C4C4","#00FF00","#FF2020","#FFFF00","#FFFFFF"]}}}},
{"data":{"name":"digits"},"mark":{"type":"text","align":"center","baseline":"middle","font":"Liberation Sans, Noto Sans CJK SC","fontSize":12},
 "encoding":{"text":{"field":"t","type":"nominal"},"color":{"field":"c","type":"nominal","legend":null,"scale":{"domain":["gray","green","red","yellow","white"],"range":["#C4C4C4","#00FF00","#FF2020","#FFFF00","#FFFFFF"]}}}}
],
"resolve":{"scale":{"color":"independent","fill":"independent","stroke":"independent"}}
},
{"width":1076,"height":155,
"encoding":{
"x":{"field":"k","type":"quantitative","axis":null,"scale":{"domain":[-0.537,130.68],"nice":false,"zero":false,"padding":0}},
"y":{"field":"v","type":"quantitative","axis":null,"scale":{"domain":[-109375,2312500],"nice":false,"zero":false}}
},
"layer":[
{"data":{"name":"volGrid"},"mark":{"type":"rule","stroke":"#8C0000","strokeWidth":1,"strokeDash":[1,2],"clip":true},
 "encoding":{"x":{"field":"a","type":"quantitative"},"x2":{"field":"b"}}},
{"data":{"name":"candles"},"mark":{"type":"bar","size":6,"strokeWidth":1.2,"orient":"vertical"},
 "encoding":{
 "fill":{"field":"vd","type":"nominal","legend":null,"scale":{"domain":["up","down"],"range":["#000000","#54FFFF"]}},
 "stroke":{"field":"vd","type":"nominal","legend":null,"scale":{"domain":["up","down"],"range":["#FF3232","#54FFFF"]}}}},
{"data":{"name":"ma"},"mark":{"type":"line","strokeWidth":1},
 "encoding":{"color":{"field":"s","type":"nominal","legend":null,"scale":{"domain":["MA5","MA10"],"range":["#FFFFFF","#FFFF00"]}}}},
{"data":{"name":"volBorder"},"mark":{"type":"rule","stroke":"#C00000","strokeWidth":1.5,"clip":true},
 "encoding":{"x":{"field":"a","type":"quantitative"},"x2":{"field":"b"}}},
{"data":{"name":"volIcons"},"mark":{"type":"point","shape":"circle","filled":true,"size":130,"color":"#6E6E6E","opacity":1,"clip":true},"encoding":{}},
{"data":{"name":"volIcons"},"mark":{"type":"text","text":"v","font":"DejaVu Sans","fontSize":9,"color":"#1A1A1A","baseline":"middle","clip":true},"encoding":{}},
{"data":{"name":"volLabels"},"mark":{"type":"text","align":"left","baseline":"middle","font":"Liberation Sans","fontSize":12,"clip":true},
 "encoding":{"text":{"field":"t","type":"nominal"},"color":{"field":"c","type":"nominal","legend":null,"scale":{"domain":["white","yellow"],"range":["#FFFFFF","#FFFF00"]}}}}
],
"resolve":{"scale":{"color":"independent","fill":"independent","stroke":"independent"}}
}
]
}
